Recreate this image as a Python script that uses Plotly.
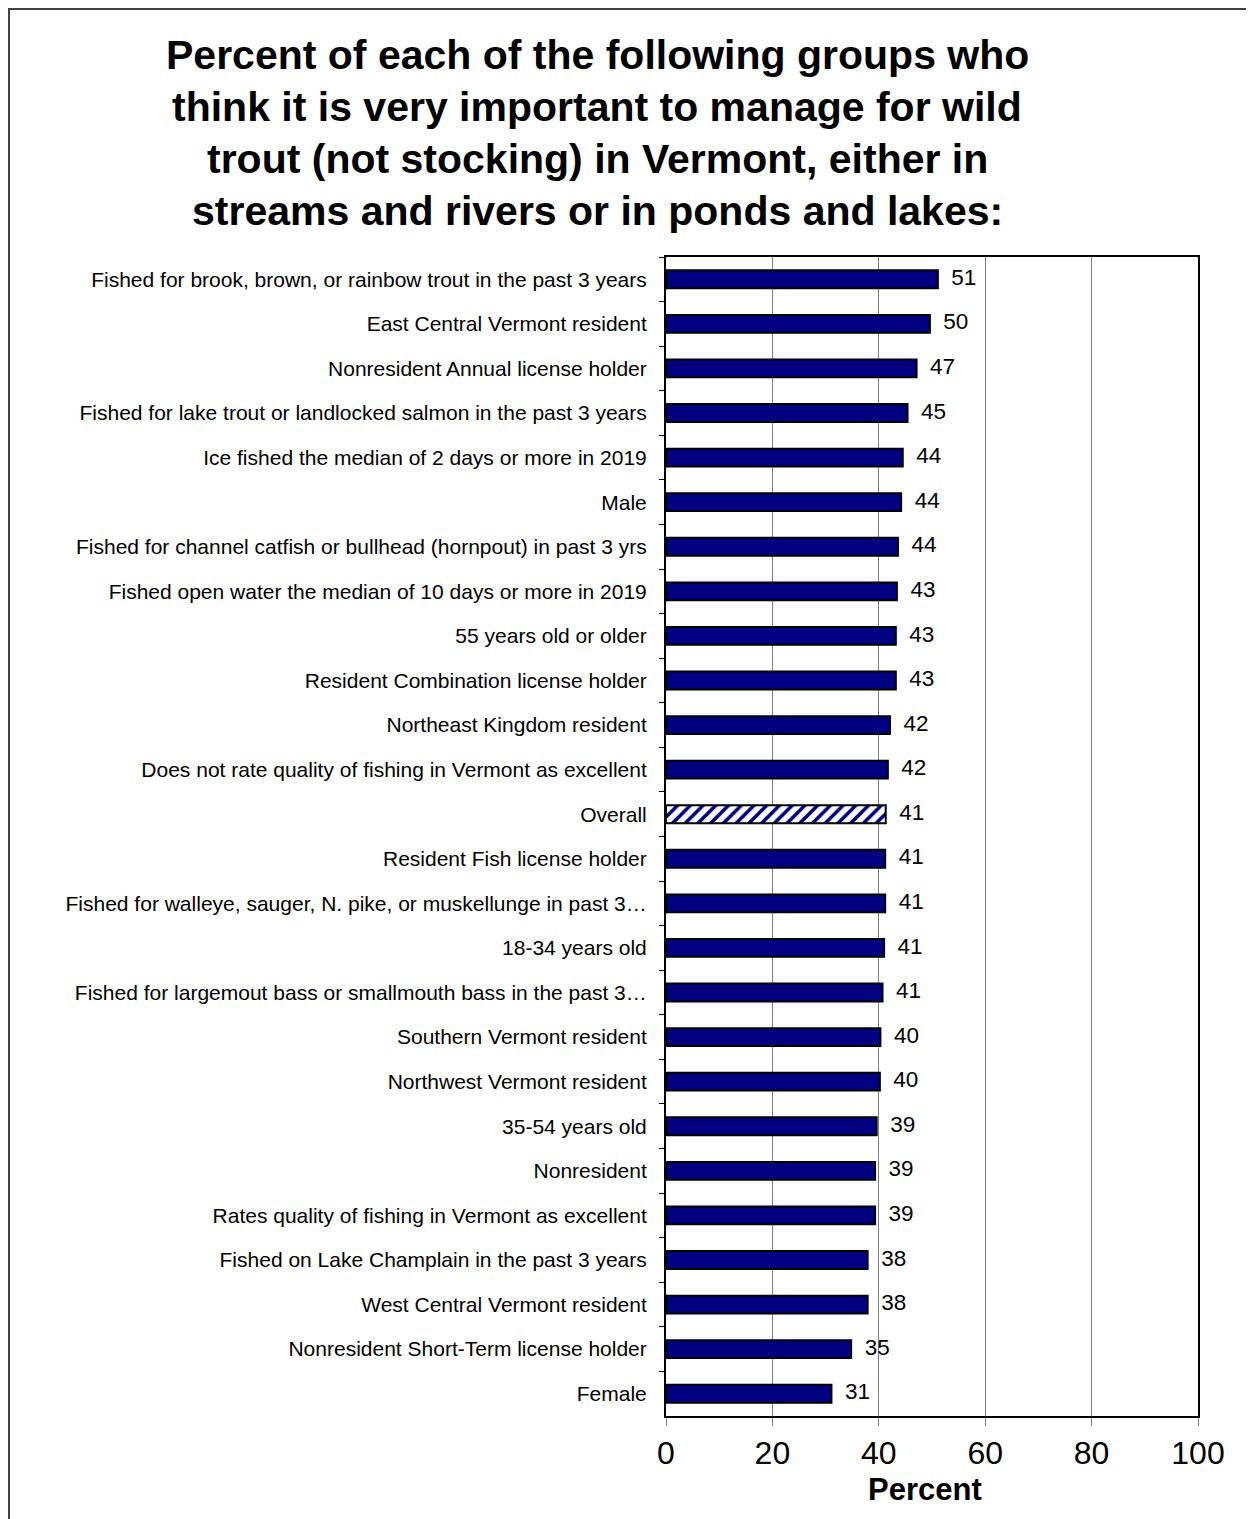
import plotly.graph_objects as go

categories = [
    "Fished for brook, brown, or rainbow trout in the past 3 years",
    "East Central Vermont resident",
    "Nonresident Annual license holder",
    "Fished for lake trout or landlocked salmon in the past 3 years",
    "Ice fished the median of 2 days or more in 2019",
    "Male",
    "Fished for channel catfish or bullhead (hornpout) in past 3 yrs",
    "Fished open water the median of 10 days or more in 2019",
    "55 years old or older",
    "Resident Combination license holder",
    "Northeast Kingdom resident",
    "Does not rate quality of fishing in Vermont as excellent",
    "Overall",
    "Resident Fish license holder",
    "Fished for walleye, sauger, N. pike, or muskellunge in past 3…",
    "18-34 years old",
    "Fished for largemout bass or smallmouth bass in the past 3…",
    "Southern Vermont resident",
    "Northwest Vermont resident",
    "35-54 years old",
    "Nonresident",
    "Rates quality of fishing in Vermont as excellent",
    "Fished on Lake Champlain in the past 3 years",
    "West Central Vermont resident",
    "Nonresident Short-Term license holder",
    "Female",
]
values = [51.1, 49.6, 47.1, 45.4, 44.5, 44.2, 43.6, 43.4, 43.2, 43.2, 42.1, 41.7,
          41.3, 41.2, 41.2, 41.0, 40.7, 40.3, 40.2, 39.6, 39.3, 39.3, 37.9, 37.9,
          34.8, 31.1]
value_labels = ["51", "50", "47", "45", "44", "44", "44", "43", "43", "43", "42", "42",
                "41", "41", "41", "41", "41", "40", "40", "39", "39", "39", "38", "38",
                "35", "31"]
x_ticks = [0, 20, 40, 60, 80, 100]

NAVY = "#000080"
FONT = "Arial, Liberation Sans, sans-serif"
shapes_pat = ["/" if c == "Overall" else "" for c in categories]

fig = go.Figure()
fig.add_trace(go.Bar(
    x=values, y=categories, orientation="h",
    marker=dict(color=NAVY, line=dict(color="black", width=2),
                pattern=dict(shape=shapes_pat, bgcolor="white", fillmode="replace",
                             size=9, solidity=0.4)),
    hoverinfo="x+y",
))
fig.add_trace(go.Scatter(
    x=values, y=categories, mode="markers+text", text=value_labels,
    textposition="middle right",
    marker=dict(size=20, color="rgba(0,0,0,0)"),
    textfont=dict(family=FONT, size=22.5, color="black"),
    hoverinfo="skip", cliponaxis=False,
))

OFF = 8  # browser body margin
W, H = 1254 - OFF, 1519 - OFF
L, R, T, B = 666 - OFF, 1198 - OFF, 257 - OFF, 1416 - OFF

def px_x(p):
    return (p - OFF - L) / (R - L)

def px_y(p):
    return (B - (p - OFF)) / (B - T)

title_lines = [
    "Percent of each of the following groups who",
    "think it is very important to manage for wild",
    "trout (not stocking) in Vermont, either in",
    "streams and rivers or in ponds and lakes:",
]
title_y = [55, 107, 159, 211]
annotations = []
for line, yy in zip(title_lines, title_y):
    annotations.append(dict(
        text="<b>" + line + "</b>", x=px_x(597), y=px_y(yy), xref="paper", yref="paper",
        xanchor="center", yanchor="middle", showarrow=False,
        font=dict(family=FONT, size=41, color="black"),
    ))
annotations.append(dict(
    text="<b>Percent</b>", x=px_x(925), y=px_y(1489), xref="paper", yref="paper",
    xanchor="center", yanchor="middle", showarrow=False,
    font=dict(family=FONT, size=31, color="black"),
))

fig.update_layout(
    width=W, height=H,
    margin=dict(l=L, r=W - R, t=T, b=H - B, pad=0),
    paper_bgcolor="white", plot_bgcolor="white",
    showlegend=False, bargap=0.6,
    annotations=annotations,
    font=dict(family=FONT, color="black"),
    shapes=[dict(type="rect", xref="paper", yref="paper",
                 x0=px_x(9), x1=px_x(1400), y0=px_y(1700), y1=px_y(9),
                 line=dict(color="#404040", width=2), layer="below")],
)
fig.update_xaxes(
    range=[0, 100], tickvals=x_ticks, showgrid=True, gridcolor="#808080", gridwidth=1,
    showline=True, linecolor="black", linewidth=2, mirror=True,
    ticks="outside", ticklen=8, tickcolor="#808080",
    tickfont=dict(family=FONT, size=32, color="black"),
    zeroline=False, fixedrange=True,
)
fig.update_yaxes(
    range=[len(categories) - 0.5, -0.5], showline=True, linecolor="black", linewidth=2,
    mirror=True, ticks="outside", tickson="boundaries", ticklen=5, tickcolor="black",
    tickfont=dict(family=FONT, size=21, color="black"),
    ticklabelstandoff=13, showgrid=False, fixedrange=True,
)

fig.write_html("out.html")
